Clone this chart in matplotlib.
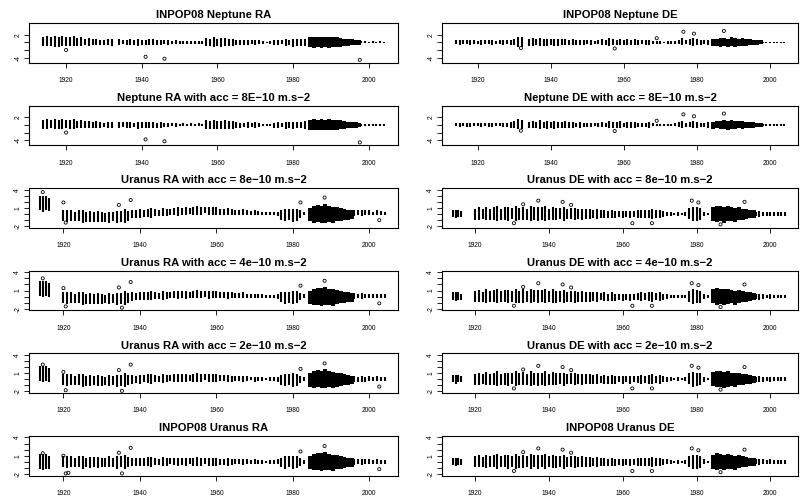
import matplotlib
matplotlib.use("Agg")
import matplotlib.pyplot as plt

plt.rcParams['font.family'] = ['Liberation Sans', 'DejaVu Sans']

# ---- Neptune: observation streaks (year, centre, half spread) ----
nep_yrs = [1914, 1915, 1916, 1917, 1918, 1919, 1920, 1921, 1922, 1923, 1924, 1925, 1926, 1927, 1928, 1929, 1930, 1931, 1932,
           1934, 1935, 1936, 1937, 1938, 1939, 1940, 1941, 1942, 1943, 1944, 1945, 1946, 1947, 1948, 1949, 1950, 1951, 1952, 1953,
           1954, 1955, 1956, 1957, 1958, 1959, 1960, 1961, 1962, 1963, 1964, 1965, 1966, 1967, 1968, 1969, 1970, 1971, 1972, 1973,
           1974, 1975, 1976, 1977, 1978, 1979, 1980, 1981, 1982, 1983,
           1998, 1999, 2000, 2001, 2002, 2003, 2004]

nep_ra_mid = [0.2, 0.3, 0.2, 0.3, 0.1, 0.3, 0.2, 0.2, 0.3, 0.1, 0.2, 0.1, 0.1, 0.0, 0.1, 0.0, 0.0, 0.1, 0.0,
              0.0, 0.1, 0.0, 0.1, 0.0, -0.1, 0.0, 0.0, 0.1, 0.0, -0.1, 0.0, 0.0, 0.0, 0.0, 0.0, 0.0, 0.0, 0.0, 0.0,
              0.0, 0.0, 0.0, 0.1, 0.0, 0.1, 0.0, 0.0, 0.1, 0.0, 0.0, 0.0, -0.1, 0.0, 0.0, 0.0, 0.0, 0.0, 0.0, 0.0,
              0.0, -0.1, 0.0, 0.0, -0.1, 0.0, -0.1, 0.0, 0.0, 0.0,
              0.0, 0.0, 0.0, 0.0, 0.0, 0.0, 0.0]
nep_ra_half = [1.2, 1.3, 1.1, 1.4, 1.2, 1.3, 1.1, 1.2, 1.3, 1.0, 1.1, 0.9, 1.0, 0.8, 0.9, 0.7, 0.6, 0.8, 0.9,
               0.8, 0.6, 0.7, 0.8, 0.6, 0.9, 0.7, 0.7, 0.8, 0.8, 0.6, 0.7, 0.5, 0.6, 0.4, 0.5, 0.3, 0.4, 0.3, 0.4,
               0.3, 0.4, 0.3, 1.1, 1.0, 1.2, 1.0, 1.1, 1.1, 1.0, 1.0, 0.7, 0.6, 0.6, 0.7, 0.5, 0.7, 0.5, 0.3, 0.2,
               0.3, 0.6, 0.7, 0.5, 0.9, 0.7, 1.0, 0.9, 0.9, 1.0,
               0.25, 0.25, 0.2, 0.25, 0.2, 0.25, 0.2]
nep_dense_yrs = [1984.5, 1985.5, 1986.5, 1987.5, 1988.5, 1989.5, 1990.5, 1991.5, 1992.5, 1993.5, 1994.5, 1995.5, 1996.5, 1997.5]
nep_ra_dense_lo = [-1.3, -1.4, -1.2, -1.4, -1.3, -1.4, -1.2, -1.3, -1.1, -1.0, -0.9, -0.8, -0.7, -0.6]
nep_ra_dense_hi = [1.4, 1.5, 1.3, 1.5, 1.4, 1.5, 1.3, 1.4, 1.2, 1.0, 0.9, 0.8, 0.7, 0.5]
nep_ra_out_x = [1920.0, 1941.0, 1946.0, 1997.6]
nep_ra_out_y = [-2.0, -3.8, -4.3, -4.6]

nep_de_mid = [0.1, 0.0, 0.1, 0.0, 0.0, 0.1, 0.0, 0.0, 0.1, 0.0, 0.0, 0.0, 0.1, 0.0, 0.0, 0.0, 0.1, 0.2, 0.1,
              0.0, 0.1, 0.0, 0.1, 0.0, 0.0, 0.1, 0.0, 0.0, 0.0, 0.1, 0.0, 0.0, 0.0, 0.0, 0.0, 0.0, 0.0, 0.0, 0.0,
              0.1, 0.0, 0.1, 0.0, 0.0, 0.1, 0.0, 0.0, 0.0, 0.0, 0.0, 0.0, 0.0, 0.0, 0.0, 0.0, 0.0, 0.0, 0.0, 0.0,
              0.0, 0.1, 0.2, 0.0, 0.1, 0.1, 0.0, 0.0, 0.0, 0.0,
              0.0, 0.0, 0.0, 0.0, 0.0, 0.0, 0.0]
nep_de_half = [0.5, 0.6, 0.4, 0.5, 0.6, 0.5, 0.4, 0.6, 0.5, 0.5, 0.6, 0.4, 0.5, 0.6, 0.5, 0.7, 0.9, 1.3, 1.2,
               0.9, 1.0, 0.8, 1.1, 0.9, 1.0, 0.8, 1.0, 0.9, 0.8, 0.9, 0.7, 0.8, 0.6, 0.7, 0.6, 0.5, 0.6, 0.4, 0.5,
               0.7, 0.6, 1.0, 0.8, 0.7, 0.9, 0.6, 0.8, 0.7, 0.8, 0.6, 0.5, 0.6, 0.7, 0.4, 0.3, 0.3, 0.2, 0.3, 0.3,
               0.4, 0.6, 0.9, 0.5, 0.7, 1.0, 0.8, 0.6, 0.5, 0.7,
               0.2, 0.2, 0.2, 0.2, 0.2, 0.2, 0.2]
nep_de_dense_lo = [-1.0, -0.9, -1.1, -1.0, -1.2, -1.0, -1.1, -0.9, -1.0, -0.9, -0.8, -0.7, -0.6, -0.5]
nep_de_dense_hi = [0.9, 1.0, 1.1, 1.2, 1.0, 1.3, 1.1, 1.0, 1.1, 0.9, 0.8, 0.7, 0.6, 0.5]
nep_de_out_x = [1931.8, 1957.5, 1969.0, 1976.3, 1979.2, 1987.4]
nep_de_out_y = [-1.5, -1.6, 1.1, 2.8, 2.3, 3.0]

# ---- Uranus: observation streaks ----
ura_yrs = [1914.0, 1914.7, 1915.4, 1916.1,
           1920, 1921, 1922, 1923, 1924, 1925, 1926, 1927, 1928, 1929, 1930, 1931, 1932, 1933, 1934, 1935, 1936, 1937,
           1938, 1939, 1940, 1941, 1942, 1943, 1944, 1945, 1946, 1947, 1948, 1949, 1950,
           1951, 1952, 1953, 1954, 1955, 1956, 1957, 1958, 1959, 1960, 1961, 1962, 1963, 1964, 1965,
           1966, 1967, 1968, 1969, 1970, 1971, 1972, 1973, 1974, 1975, 1976,
           1977, 1978, 1979, 1980, 1981, 1982, 1983,
           1996, 1997, 1998, 1999, 2000, 2001, 2002, 2003, 2004]
ura_ra_half = [1.2, 1.3, 1.2, 1.1,
               0.9, 1.0, 0.9, 0.8, 0.9, 1.0, 0.8, 0.9, 0.8, 0.9, 0.8, 0.7, 0.9, 0.8, 1.0, 0.9, 1.1, 0.8,
               0.7, 0.6, 0.7, 0.6, 0.7, 0.8, 0.6, 0.5, 0.7, 0.6, 0.5, 0.6, 0.7,
               0.6, 0.7, 0.5, 0.6, 0.7, 0.6, 0.5, 0.7, 0.6, 0.6, 0.5, 0.5, 0.6, 0.5, 0.4,
               0.4, 0.5, 0.4, 0.3, 0.4, 0.3, 0.3, 0.2, 0.3, 0.3, 0.4,
               0.8, 1.0, 0.9, 1.1, 1.0, 0.6, 0.3,
               0.5, 0.4, 0.5, 0.4, 0.4, 0.3, 0.4, 0.3, 0.3]
ura_ra8_mid = [1.8, 1.7, 1.8, 1.6,
               -0.2, -0.3, -0.2, -0.4, -0.3, -0.4, -0.5, -0.4, -0.5, -0.4, -0.5, -0.6, -0.5, -0.4, -0.5, -0.4, -0.3, -0.3,
               0.0, 0.0, 0.1, 0.1, 0.2, 0.2, 0.3, 0.2, 0.3, 0.3, 0.4, 0.4, 0.4,
               0.4, 0.5, 0.5, 0.5, 0.6, 0.5, 0.6, 0.5, 0.5, 0.5, 0.4, 0.4, 0.4, 0.3, 0.3,
               0.3, 0.3, 0.2, 0.2, 0.2, 0.2, 0.1, 0.1, 0.1, 0.1, 0.0,
               -0.1, -0.2, -0.1, -0.2, -0.1, 0.0, 0.1,
               0.2, 0.2, 0.1, 0.2, 0.2, 0.1, 0.2, 0.2, 0.1]
ura_ra4_mid = [1.3, 1.2, 1.3, 1.1,
               -0.2, -0.2, -0.1, -0.3, -0.2, -0.3, -0.4, -0.3, -0.4, -0.3, -0.4, -0.4, -0.3, -0.3, -0.4, -0.3, -0.2, -0.2,
               0.0, 0.0, 0.1, 0.1, 0.1, 0.2, 0.2, 0.1, 0.2, 0.2, 0.3, 0.3, 0.3,
               0.3, 0.3, 0.3, 0.4, 0.4, 0.3, 0.4, 0.3, 0.3, 0.3, 0.3, 0.3, 0.2, 0.2, 0.2,
               0.2, 0.2, 0.1, 0.1, 0.1, 0.1, 0.1, 0.0, 0.0, 0.0, 0.0,
               -0.1, -0.2, -0.1, -0.1, -0.1, 0.0, 0.1,
               0.1, 0.1, 0.1, 0.1, 0.1, 0.1, 0.1, 0.1, 0.1]
ura_ra2_mid = [0.9, 0.8, 0.9, 0.7,
               -0.1, -0.1, 0.0, -0.2, -0.1, -0.2, -0.3, -0.2, -0.2, -0.2, -0.3, -0.3, -0.2, -0.2, -0.3, -0.2, -0.1, -0.1,
               0.0, 0.0, 0.0, 0.1, 0.1, 0.1, 0.1, 0.1, 0.1, 0.1, 0.2, 0.2, 0.2,
               0.2, 0.2, 0.2, 0.2, 0.3, 0.2, 0.3, 0.2, 0.2, 0.2, 0.2, 0.2, 0.1, 0.1, 0.1,
               0.1, 0.1, 0.1, 0.1, 0.0, 0.0, 0.0, 0.0, 0.0, 0.0, 0.0,
               -0.1, -0.1, -0.1, -0.1, -0.1, 0.0, 0.0,
               0.1, 0.0, 0.1, 0.0, 0.1, 0.0, 0.1, 0.0, 0.0]
ura_ra0_mid = [0.1, 0.0, 0.1, -0.1,
               0.0, 0.0, 0.1, -0.1, 0.0, -0.1, -0.1, -0.1, 0.0, -0.1, -0.1, -0.1, 0.0, -0.1, -0.1, 0.0, 0.0, 0.0,
               0.0, 0.0, 0.0, 0.0, 0.1, 0.0, 0.1, 0.0, 0.1, 0.0, 0.1, 0.1, 0.0,
               0.1, 0.0, 0.1, 0.0, 0.1, 0.0, 0.1, 0.0, 0.0, 0.0, 0.0, 0.0, 0.0, 0.0, 0.0,
               0.0, 0.0, 0.0, 0.0, 0.0, 0.0, 0.0, 0.0, 0.0, 0.0, 0.0,
               -0.1, -0.1, 0.0, -0.1, 0.0, 0.0, 0.0,
               0.0, 0.0, 0.0, 0.0, 0.0, 0.0, 0.0, 0.0, 0.0]
ura_dense_yrs = [1984.5, 1985.5, 1986.5, 1987.5, 1988.5, 1989.5, 1990.5, 1991.5, 1992.5, 1993.5, 1994.5, 1995.5]
ura_ra_dense_lo = [-1.2, -1.4, -1.3, -1.5, -1.4, -1.3, -1.5, -1.2, -1.1, -1.0, -0.9, -0.8]
ura_ra_dense_hi = [1.0, 1.3, 1.5, 1.4, 1.6, 1.3, 1.2, 1.1, 1.0, 0.8, 0.7, 0.6]
ura_ra8_out_x = [1914.6, 1920.0, 1920.6, 1934.5, 1937.6, 1982.0, 1988.3, 2002.6]
ura_ra8_out_y = [3.6, 1.9, -1.4, 1.5, 2.3, 1.9, 2.7, -1.0]
ura_ra4_out_x = [1914.6, 1920.0, 1920.6, 1934.5, 1935.3, 1937.6, 1982.0, 1988.3, 2002.6]
ura_ra4_out_y = [3.0, 1.4, -1.6, 1.5, -1.8, 2.4, 1.8, 2.6, -1.1]
ura_ra2_out_x = [1914.6, 1920.0, 1920.6, 1934.5, 1935.3, 1937.6, 1982.0, 1988.3, 2002.6]
ura_ra2_out_y = [2.4, 1.2, -1.8, 1.5, -1.9, 2.4, 1.7, 2.6, -1.2]
ura_ra0_out_x = [1914.6, 1920.0, 1920.6, 1921.3, 1934.5, 1935.3, 1937.6, 1982.0, 1988.3, 2002.6]
ura_ra0_out_y = [1.4, 1.0, -1.9, -1.8, 1.5, -1.9, 2.3, 1.7, 2.6, -1.2]

ura_de_mid = [0.1, 0.0, 0.1, 0.0,
              0.0, 0.1, 0.0, 0.1, 0.0, 0.1, 0.1, 0.0, 0.1, 0.0, 0.1, 0.1, 0.0, 0.1, 0.0, 0.1, 0.1, 0.0,
              0.1, 0.1, 0.0, 0.1, 0.0, 0.1, 0.0, 0.0, 0.1, 0.0, 0.0, 0.0, 0.0,
              0.0, 0.0, 0.0, 0.0, 0.0, -0.1, 0.0, -0.1, 0.0, -0.1, 0.0, -0.1, 0.0, 0.0, 0.0,
              0.0, 0.0, 0.0, 0.0, 0.0, 0.0, 0.0, 0.0, 0.0, 0.0, 0.0,
              0.0, 0.1, 0.0, 0.0, 0.0, 0.0, 0.0,
              0.0, 0.0, 0.0, 0.0, 0.0, 0.0, 0.0, 0.0, 0.0]
ura_de_half = [0.6, 0.7, 0.6, 0.5,
               0.9, 1.0, 0.8, 1.1, 0.9, 1.0, 1.2, 0.9, 1.0, 1.1, 0.9, 1.2, 1.0, 1.1, 0.9, 1.2, 1.0, 1.1,
               1.0, 1.2, 0.9, 1.1, 1.0, 0.9, 1.1, 0.8, 0.9, 1.0, 0.8, 0.9, 0.8,
               0.8, 0.7, 0.8, 0.6, 0.7, 0.6, 0.7, 0.6, 0.5, 0.6, 0.5, 0.6, 0.5, 0.6, 0.7,
               0.6, 0.7, 0.8, 0.6, 0.7, 0.5, 0.4, 0.3, 0.2, 0.3, 0.2,
               0.3, 0.9, 1.2, 1.1, 1.0, 0.4, 0.2,
               0.4, 0.5, 0.4, 0.3, 0.4, 0.3, 0.3, 0.3, 0.3]
ura_de_dense_lo = [-1.1, -1.3, -1.2, -1.4, -1.2, -1.1, -1.3, -1.0, -0.9, -0.8, -0.7, -0.6]
ura_de_dense_hi = [1.2, 1.4, 1.3, 1.2, 1.3, 1.1, 1.0, 1.1, 0.9, 0.8, 0.7, 0.6]
ura_de_out_x = [1930.5, 1933.0, 1937.1, 1943.7, 1946.0, 1962.6, 1967.9, 1978.7, 1980.5, 1986.5, 1993.0]
ura_de_out_y = [-1.5, 1.6, 2.2, 2.0, 1.5, -1.5, -1.5, 2.2, 1.9, -1.7, 2.0]

titles = [["INPOP08 Neptune RA", "INPOP08 Neptune DE"],
          ["Neptune RA with acc = 8E\u221210 m.s\u22122", "Neptune DE with acc = 8E\u221210 m.s\u22122"],
          ["Uranus RA with acc = 8e\u221210 m.s\u22122", "Uranus DE with acc = 8e\u221210 m.s\u22122"],
          ["Uranus RA with acc = 4e\u221210 m.s\u22122", "Uranus DE with acc = 4e\u221210 m.s\u22122"],
          ["Uranus RA with acc = 2e\u221210 m.s\u22122", "Uranus DE with acc = 2e\u221210 m.s\u22122"],
          ["INPOP08 Uranus RA", "INPOP08 Uranus DE"]]

W, H = 809, 496
fig = plt.figure(figsize=(W / 100, H / 100), dpi=100)

col_x = [29, 442]
col_w = [369, 356]
row_top0 = 23
row_pitch = 82.6
box_h = 39.5


def draw(ax, yrs, mid, half, dyrs, dlo, dhi, ox, oy, planet):
    lo = [m - h for m, h in zip(mid, half)]
    hi = [m + h for m, h in zip(mid, half)]
    ax.vlines(yrs, lo, hi, colors='black', lw=1.5)
    ax.bar(dyrs, [h - l for l, h in zip(dlo, dhi)], bottom=dlo, width=1.0, color='black', lw=0)
    ax.scatter(ox, oy, s=5, facecolors='none', edgecolors='black', linewidths=0.6, zorder=3)
    ax.set_xticks([1920, 1940, 1960, 1980, 2000])
    if planet == 'nep':
        ax.set_xlim(1910.2, 2007.7)
        ax.set_ylim(-5.3, 5.1)
        ax.set_yticks([-4, -2, 0, 2])
        ax.set_yticklabels(['-4', '', '', '2'], rotation=90, va='center')
    else:
        ax.set_xlim(1911.0, 2007.5)
        ax.set_ylim(-2.24, 4.24)
        ax.set_yticks([-2, -1, 0, 1, 2, 3, 4])
        ax.set_yticklabels(['-2', '', '', '1', '', '', '4'], rotation=90, va='center')
    ax.tick_params(direction='out', length=3.5, width=0.6, labelsize=4.8, pad=2, colors='black')
    ax.tick_params(axis='x', pad=7)
    for s in ax.spines.values():
        s.set_linewidth(0.8)


for r in range(6):
    for c in range(2):
        top = row_top0 + r * row_pitch
        ax = fig.add_axes([col_x[c] / W, 1 - (top + box_h) / H, col_w[c] / W, box_h / H])
        ax.set_title(titles[r][c], fontsize=8.1, fontweight='bold', pad=3.5)
        if r < 2:
            if c == 0:
                draw(ax, nep_yrs, nep_ra_mid, nep_ra_half, nep_dense_yrs, nep_ra_dense_lo, nep_ra_dense_hi,
                     nep_ra_out_x, nep_ra_out_y, 'nep')
            else:
                draw(ax, nep_yrs, nep_de_mid, nep_de_half, nep_dense_yrs, nep_de_dense_lo, nep_de_dense_hi,
                     nep_de_out_x, nep_de_out_y, 'nep')
        else:
            if c == 0:
                mid, ox, oy = [(ura_ra8_mid, ura_ra8_out_x, ura_ra8_out_y),
                               (ura_ra4_mid, ura_ra4_out_x, ura_ra4_out_y),
                               (ura_ra2_mid, ura_ra2_out_x, ura_ra2_out_y),
                               (ura_ra0_mid, ura_ra0_out_x, ura_ra0_out_y)][r - 2]
                draw(ax, ura_yrs, mid, ura_ra_half, ura_dense_yrs, ura_ra_dense_lo, ura_ra_dense_hi, ox, oy, 'ura')
            else:
                draw(ax, ura_yrs, ura_de_mid, ura_de_half, ura_dense_yrs, ura_de_dense_lo, ura_de_dense_hi,
                     ura_de_out_x, ura_de_out_y, 'ura')

fig.savefig("out.png", dpi=100)
